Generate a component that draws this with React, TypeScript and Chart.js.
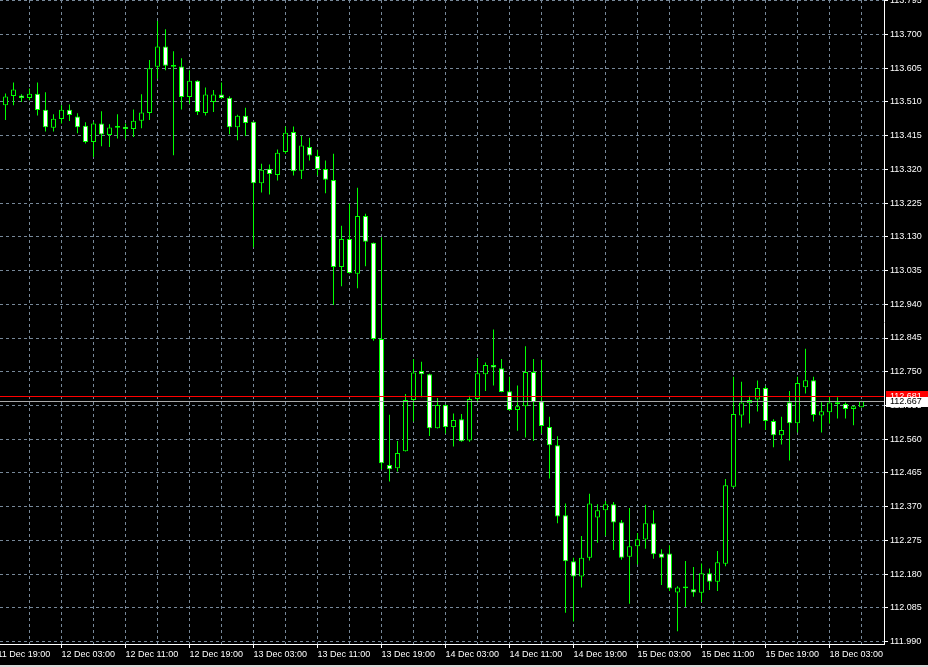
import { useEffect, useRef } from "react";
import { Chart, registerables } from "chart.js";

Chart.register(...registerables);

// Hourly USDJPY-style candles (bar index 0 = 11 Dec 20:00)
const OPEN = [
  113.501, 113.527, 113.528, 113.521, 113.533, 113.488, 113.437, 113.462, 113.488, 113.469,
  113.443, 113.397, 113.449, 113.417, 113.437, 113.440, 113.434, 113.457, 113.479, 113.609,
  113.666, 113.609, 113.610, 113.524, 113.570, 113.479, 113.510, 113.531, 113.522, 113.439,
  113.471, 113.454, 113.281, 113.322, 113.304, 113.369, 113.425, 113.316, 113.383, 113.358,
  113.321, 113.290, 113.045, 113.124, 113.026, 113.189, 113.113, 112.842, 112.487, 112.478,
  112.526, 112.670, 112.752, 112.743, 112.591, 112.656, 112.594, 112.616, 112.556, 112.673,
  112.743, 112.769, 112.760, 112.695, 112.642, 112.653, 112.749, 112.667, 112.594, 112.543,
  112.346, 112.216, 112.173, 112.226, 112.339, 112.360, 112.377, 112.326, 112.229, 112.258,
  112.277, 112.323, 112.238, 112.238, 112.128, 112.145, 112.137, 112.127, 112.182, 112.158,
  112.209, 112.426, 112.627, 112.661, 112.672, 112.704, 112.611, 112.571, 112.664, 112.605,
  112.706, 112.726, 112.627, 112.636, 112.659, 112.659, 112.645, 112.650,
];
const HIGH = [
  113.534, 113.565, 113.532, 113.548, 113.565, 113.537, 113.475, 113.501, 113.503, 113.478,
  113.453, 113.454, 113.484, 113.447, 113.475, 113.449, 113.489, 113.532, 113.628, 113.738,
  113.715, 113.653, 113.633, 113.599, 113.571, 113.551, 113.544, 113.565, 113.526, 113.474,
  113.494, 113.455, 113.336, 113.334, 113.376, 113.441, 113.441, 113.415, 113.409, 113.375,
  113.345, 113.364, 113.161, 113.224, 113.268, 113.195, 113.114, 113.129, 112.629, 112.555,
  112.687, 112.786, 112.778, 112.744, 112.676, 112.657, 112.632, 112.631, 112.682, 112.789,
  112.776, 112.869, 112.786, 112.736, 112.711, 112.822, 112.786, 112.784, 112.623, 112.568,
  112.379, 112.226, 112.287, 112.406, 112.377, 112.386, 112.383, 112.332, 112.366, 112.296,
  112.375, 112.360, 112.250, 112.261, 112.146, 112.217, 112.200, 112.210, 112.196, 112.245,
  112.448, 112.736, 112.722, 112.682, 112.725, 112.710, 112.616, 112.623, 112.696, 112.736,
  112.815, 112.736, 112.664, 112.681, 112.678, 112.663, 112.654, 112.668,
];
const LOW = [
  113.459, 113.501, 113.510, 113.515, 113.472, 113.427, 113.427, 113.449, 113.456, 113.422,
  113.393, 113.355, 113.385, 113.383, 113.407, 113.406, 113.411, 113.436, 113.459, 113.575,
  113.599, 113.360, 113.489, 113.505, 113.473, 113.472, 113.482, 113.518, 113.419, 113.402,
  113.414, 113.101, 113.255, 113.249, 113.289, 113.364, 113.303, 113.293, 113.345, 113.303,
  113.253, 112.938, 112.991, 113.027, 112.985, 113.047, 112.837, 112.475, 112.441, 112.469,
  112.525, 112.610, 112.678, 112.569, 112.590, 112.576, 112.539, 112.553, 112.553, 112.663,
  112.696, 112.711, 112.692, 112.640, 112.584, 112.565, 112.555, 112.576, 112.449, 112.323,
  112.071, 112.046, 112.142, 112.218, 112.268, 112.288, 112.248, 112.220, 112.096, 112.207,
  112.251, 112.223, 112.149, 112.132, 112.019, 112.087, 112.116, 112.101, 112.135, 112.132,
  112.202, 112.424, 112.593, 112.604, 112.638, 112.586, 112.537, 112.545, 112.500, 112.579,
  112.689, 112.610, 112.579, 112.604, 112.618, 112.618, 112.599, 112.649,
];
const CLOSE = [
  113.525, 113.545, 113.521, 113.533, 113.487, 113.439, 113.463, 113.488, 113.473, 113.439,
  113.397, 113.449, 113.418, 113.438, 113.442, 113.434, 113.457, 113.480, 113.605, 113.666,
  113.612, 113.614, 113.524, 113.570, 113.482, 113.531, 113.531, 113.521, 113.439, 113.471,
  113.451, 113.281, 113.319, 113.307, 113.367, 113.423, 113.315, 113.387, 113.359, 113.321,
  113.291, 113.045, 113.124, 113.028, 113.189, 113.116, 112.842, 112.492, 112.475, 112.521,
  112.670, 112.748, 112.743, 112.591, 112.656, 112.594, 112.614, 112.554, 112.673, 112.746,
  112.769, 112.762, 112.693, 112.642, 112.653, 112.749, 112.664, 112.597, 112.543, 112.342,
  112.216, 112.173, 112.226, 112.379, 112.360, 112.377, 112.325, 112.226, 112.258, 112.278,
  112.323, 112.236, 112.226, 112.139, 112.142, 112.140, 112.128, 112.182, 112.158, 112.213,
  112.430, 112.631, 112.663, 112.670, 112.704, 112.611, 112.571, 112.586, 112.605, 112.718,
  112.726, 112.628, 112.639, 112.663, 112.664, 112.645, 112.653, 112.667,
];

const TIME_LABELS = [
  "11 Dec 19:00", "12 Dec 03:00", "12 Dec 11:00", "12 Dec 19:00", "13 Dec 03:00",
  "13 Dec 11:00", "13 Dec 19:00", "14 Dec 03:00", "14 Dec 11:00", "14 Dec 19:00",
  "15 Dec 03:00", "15 Dec 11:00", "15 Dec 19:00", "18 Dec 03:00",
];
const FIRST_LABEL_BAR = -1;
const BARS_PER_LABEL = 8;
const BARS_PER_GRID = 4;

const PRICE_TICKS = [
  111.990, 112.085, 112.180, 112.275, 112.370, 112.465, 112.560, 112.655, 112.750, 112.845,
  112.940, 113.035, 113.130, 113.225, 113.320, 113.415, 113.510, 113.605, 113.700, 113.795,
];

const BID = 112.667;
const ASK = 112.681;

const X_MIN = -0.6875;
const X_MAX = 109.8125;
const Y_MIN = 111.98296;
const Y_MAX = 113.7972;

const GREEN = "#00ff00";
const GRID_COLOR = "#778899";
const FONT = { family: "'Liberation Sans', Arial, sans-serif", size: 9 };

const isLabelBar = (v: number) =>
  (v - FIRST_LABEL_BAR) % BARS_PER_LABEL === 0;

const overlayPlugin = {
  id: "mt4overlay",
  beforeDraw(chart: any) {
    const { ctx, width, height } = chart;
    ctx.save();
    ctx.fillStyle = "#000000";
    ctx.fillRect(0, 0, width, height);
    ctx.restore();
  },
  afterDraw(chart: any) {
    const { ctx, chartArea, width, height } = chart;
    const y = chart.scales.y;
    const yAsk = Math.floor(y.getPixelForValue(ASK)) + 0.5;
    const yBid = Math.floor(y.getPixelForValue(BID)) + 0.5;
    ctx.save();
    ctx.lineWidth = 1;
    ctx.strokeStyle = "#ff0000";
    ctx.beginPath();
    ctx.moveTo(chartArea.left, yAsk);
    ctx.lineTo(chartArea.right, yAsk);
    ctx.stroke();
    ctx.strokeStyle = "#a9a9a9";
    ctx.beginPath();
    ctx.moveTo(chartArea.left, yBid);
    ctx.lineTo(chartArea.right, yBid);
    ctx.stroke();

    const boxX = chartArea.right + 2;
    ctx.font = `${FONT.size}px ${FONT.family}`;
    ctx.textBaseline = "middle";
    ctx.textAlign = "left";
    // ask label
    ctx.fillStyle = "#ff0000";
    ctx.fillRect(boxX, Math.round(yAsk - 6), width - boxX, 12);
    ctx.fillStyle = "#ffffff";
    ctx.fillText(ASK.toFixed(3), chartArea.right + 6, yAsk);
    // bid label
    ctx.fillStyle = "#ffffff";
    ctx.fillRect(boxX, Math.round(yBid - 5), width - boxX, 10);
    ctx.fillStyle = "#000000";
    ctx.fillText(BID.toFixed(3), chartArea.right + 6, yBid);

    ctx.fillStyle = "#d9d9d9";
    ctx.fillRect(0, height - 2, width, 2);
    ctx.restore();
  },
};

export default function App() {
  const canvasRef = useRef<HTMLCanvasElement | null>(null);

  useEffect(() => {
    document.body.style.margin = "0";
    document.body.style.background = "#000";
    const canvas = canvasRef.current;
    if (!canvas) return;

    const wicks = LOW.map((l, i) => ({ x: i, y: [l, HIGH[i]] }));
    const bodies = OPEN.map((o, i) => ({ x: i, y: [o, CLOSE[i]] }));
    const bodyFill = OPEN.map((o, i) => (CLOSE[i] < o ? "#ffffff" : "#000000"));

    const chart = new Chart(canvas, {
      type: "bar",
      data: {
        datasets: [
          {
            data: wicks as any,
            backgroundColor: GREEN,
            borderWidth: 0,
            barThickness: 1,
            grouped: false,
            inflateAmount: 0,
            order: 2,
          } as any,
          {
            data: bodies as any,
            backgroundColor: bodyFill,
            borderColor: GREEN,
            borderWidth: 1,
            borderSkipped: false,
            barThickness: 5,
            grouped: false,
            inflateAmount: 0,
            order: 1,
          } as any,
        ],
      },
      options: {
        responsive: false,
        animation: false,
        events: [],
        layout: { padding: 0 },
        plugins: {
          legend: { display: false },
          tooltip: { enabled: false },
          title: { display: false },
        },
        scales: {
          x: {
            type: "linear",
            position: "bottom",
            min: X_MIN,
            max: X_MAX,
            offset: false,
            grid: {
              offset: false,
              color: GRID_COLOR,
              lineWidth: 1,
              drawOnChartArea: true,
              drawTicks: true,
              tickLength: 4,
              tickWidth: 1,
              tickColor: (ctx: any) =>
                ctx.tick && isLabelBar(ctx.tick.value) ? "#ffffff" : "rgba(0,0,0,0)",
            },
            border: { display: true, color: "#ffffff", width: 1, dash: [3, 3] },
            ticks: {
              autoSkip: false,
              maxRotation: 0,
              minRotation: 0,
              align: "start",
              padding: 1,
              color: "#ffffff",
              font: FONT,
              callback: (v: any) => {
                const n = Number(v);
                if (!isLabelBar(n)) return "";
                return TIME_LABELS[(n - FIRST_LABEL_BAR) / BARS_PER_LABEL] ?? "";
              },
            },
            afterBuildTicks: (scale: any) => {
              const t: { value: number }[] = [];
              for (let v = FIRST_LABEL_BAR; v < OPEN.length; v += BARS_PER_GRID) t.push({ value: v });
              scale.ticks = t;
            },
            afterFit: (scale: any) => {
              scale.height = 23;
              scale.paddingLeft = 0;
              scale.paddingRight = 0;
            },
          } as any,
          y: {
            type: "linear",
            position: "right",
            min: Y_MIN,
            max: Y_MAX,
            grid: {
              color: GRID_COLOR,
              lineWidth: 1,
              drawTicks: true,
              tickLength: 4,
              tickWidth: 1,
              tickColor: "#ffffff",
            },
            border: { display: true, color: "#ffffff", width: 1, dash: [3, 3] },
            ticks: {
              autoSkip: false,
              padding: 2,
              color: "#ffffff",
              font: FONT,
              callback: (v: any) => Number(v).toFixed(3),
            },
            afterBuildTicks: (scale: any) => {
              scale.ticks = PRICE_TICKS.map((value) => ({ value }));
            },
            afterFit: (scale: any) => {
              scale.width = 44;
              scale.paddingTop = 0;
              scale.paddingBottom = 0;
            },
          } as any,
        },
      },
      plugins: [overlayPlugin],
    });

    return () => chart.destroy();
  }, []);

  return (
    <div style={{ width: 928, height: 667, background: "#000" }}>
      <canvas ref={canvasRef} width={928} height={667} style={{ display: "block" }} />
    </div>
  );
}
